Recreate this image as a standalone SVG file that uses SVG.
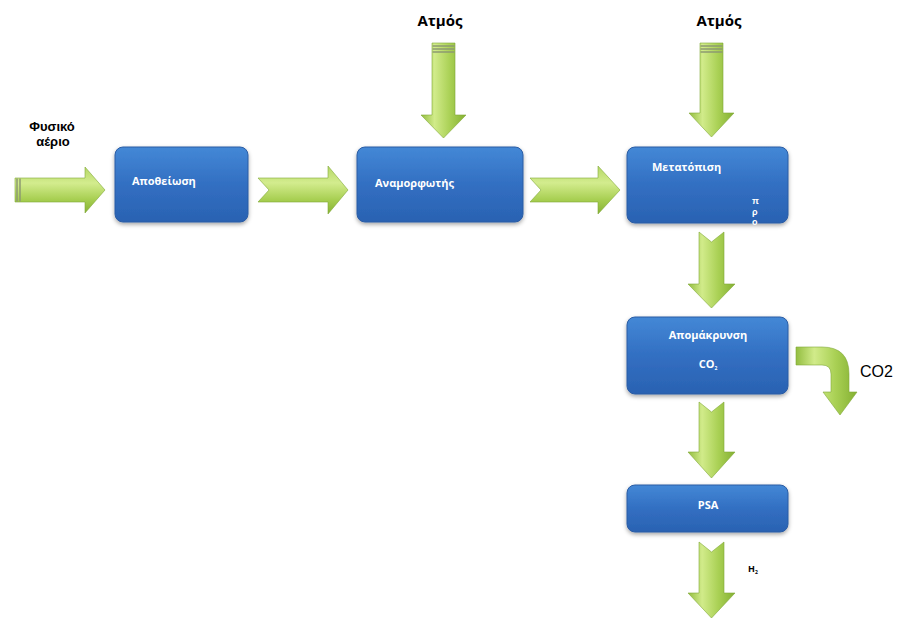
<svg xmlns="http://www.w3.org/2000/svg" width="897" height="619" viewBox="0 0 897 619">
  <defs>
    <!-- blue process box fill -->
    <linearGradient id="boxFill" x1="0" y1="0" x2="0" y2="1">
      <stop offset="0" stop-color="#4488d6"/>
      <stop offset="0.5" stop-color="#326fc2"/>
      <stop offset="1" stop-color="#2a62b2"/>
    </linearGradient>
    <!-- green arrow fills: across the shaft -->
    <linearGradient id="arrowH" x1="0" y1="0" x2="0" y2="1">
      <stop offset="0" stop-color="#b5d865"/>
      <stop offset="0.35" stop-color="#d3ec8e"/>
      <stop offset="0.7" stop-color="#a8cf52"/>
      <stop offset="1" stop-color="#86b234"/>
    </linearGradient>
    <linearGradient id="arrowV" x1="0" y1="0" x2="1" y2="0">
      <stop offset="0" stop-color="#93bd40"/>
      <stop offset="0.3" stop-color="#d1eb8a"/>
      <stop offset="0.65" stop-color="#a9d054"/>
      <stop offset="1" stop-color="#84b032"/>
    </linearGradient>
    <filter id="shadow" x="-10%" y="-10%" width="120%" height="130%">
      <feDropShadow dx="0" dy="2" stdDeviation="2" flood-color="#000" flood-opacity="0.35"/>
    </filter>
  </defs>
  <style>
    .box { fill: url(#boxFill); stroke: #2a5ca4; stroke-width: 1; filter: url(#shadow); }
    .boxText { font-family: "Open Sans", "Liberation Sans", sans-serif; font-weight: bold; font-size: 11px; fill: #ffffff; }
    .boxTextTight { font-family: "Liberation Sans", Arial, sans-serif; font-weight: bold; font-size: 9px; fill: #ffffff; }
    .ah { fill: url(#arrowH); stroke: #7fa838; stroke-width: 0.6; }
    .av { fill: url(#arrowV); stroke: #7fa838; stroke-width: 0.6; }
    .stripe { stroke: #8d9a70; stroke-width: 1.5; }
    .label { font-family: "Open Sans", "Liberation Sans", sans-serif; font-weight: bold; fill: #000; }
    .labelTight { font-family: "Liberation Sans", Arial, sans-serif; font-weight: bold; fill: #000; }
    .plain { font-family: "Liberation Sans", Arial, sans-serif; fill: #000; }
  </style>

  <rect width="897" height="619" fill="#ffffff"/>

  <!-- input labels -->
  <g id="natural-gas-label">
    <text class="labelTight" x="52" y="131" font-size="13" text-anchor="middle">Φυσικό</text>
    <text class="labelTight" x="53" y="146" font-size="13" text-anchor="middle">αέριο</text>
  </g>
  <g id="steam-label-1">
    <text class="label" x="440" y="26" font-size="15" text-anchor="middle">Ατμός</text>
  </g>
  <g id="steam-label-2">
    <text class="label" x="719" y="26" font-size="15" text-anchor="middle">Ατμός</text>
  </g>

  <!-- connectors -->
  <g id="connectors">
    <!-- natural gas feed -->
    <path class="ah" d="M15,178 L85,178 L85,167 L105,190 L85,213 L85,202 L15,202 Z"/>
    <line class="stripe" x1="17" y1="178.5" x2="17" y2="201.5"/>
    <line class="stripe" x1="20" y1="178.5" x2="20" y2="201.5"/>

    <!-- desulfurisation to reformer -->
    <path class="ah" d="M258,178 L328,178 L328,166 L348,190 L328,214 L328,202 L258,202 L269,190 Z"/>
    <!-- reformer to shift -->
    <path class="ah" d="M530,178 L598,178 L598,166 L620,190 L598,214 L598,202 L530,202 L541,190 Z"/>

    <!-- steam into reformer -->
    <path class="av" d="M432,43 L455,43 L455,115 L466,115 L443.5,138 L421,115 L432,115 Z"/>
    <line class="stripe" x1="432.5" y1="46" x2="454.5" y2="46"/>
    <line class="stripe" x1="432.5" y1="49" x2="454.5" y2="49"/>
    <line class="stripe" x1="432.5" y1="52" x2="454.5" y2="52"/>

    <!-- steam into shift -->
    <path class="av" d="M700,43 L723,43 L723,113 L734,113 L711.5,137 L689,113 L700,113 Z"/>
    <line class="stripe" x1="700.5" y1="46" x2="722.5" y2="46"/>
    <line class="stripe" x1="700.5" y1="49" x2="722.5" y2="49"/>
    <line class="stripe" x1="700.5" y1="52" x2="722.5" y2="52"/>

    <!-- shift to CO2 removal -->
    <path class="av" d="M699,232 L711.5,242 L724,232 L724,284 L735,284 L711.5,308 L688,284 L699,284 Z"/>
    <!-- CO2 removal to PSA -->
    <path class="av" d="M699,402 L711.5,412 L724,402 L724,452 L735,452 L711.5,478 L688,452 L699,452 Z"/>
    <!-- PSA product -->
    <path class="av" d="M699,542 L711.5,552 L724,542 L724,593 L735,593 L711.5,618 L688,593 L699,593 Z"/>

    <!-- CO2 off-stream bend -->
    <path class="av" d="M796,347 L822,347 Q849,347 849,374 L849,392 L857,392 L840,415 L823,392 L831,392 L831,374 Q831,365 822,365 L796,365 Z"/>
  </g>

  <!-- process blocks -->
  <g id="desulfurisation">
    <rect class="box" x="115" y="147" width="133" height="75" rx="8"/>
    <text class="boxText" x="132" y="185" font-size="12">Αποθείωση</text>
  </g>
  <g id="reformer">
    <rect class="box" x="357" y="147" width="166" height="75" rx="8"/>
    <text class="boxText" x="375" y="187" font-size="11.5">Αναμορφωτής</text>
  </g>
  <g id="shift">
    <rect class="box" x="627" y="147" width="161" height="76" rx="8"/>
    <text class="boxText" x="652" y="171">Μετατόπιση</text>
    <text class="boxTextTight" x="752" y="204">π</text>
    <text class="boxTextTight" x="752" y="214.7">ρ</text>
    <text class="boxTextTight" x="752" y="225.4">ο</text>
  </g>
  <g id="co2-removal">
    <rect class="box" x="627" y="317" width="161" height="77" rx="8"/>
    <text class="boxText" x="708" y="339" font-size="10" text-anchor="middle">Απομάκρυνση</text>
    <text class="boxText" x="708" y="368" font-size="9" text-anchor="middle">CO<tspan font-size="5" dy="2">2</tspan></text>
  </g>
  <g id="psa">
    <rect class="box" x="627" y="485" width="161" height="47" rx="8"/>
    <text class="boxText" x="708" y="509" text-anchor="middle">PSA</text>
  </g>

  <!-- output labels -->
  <g id="co2-label">
    <text class="plain" x="860" y="377" font-size="16">CO2</text>
  </g>
  <g id="h2-label">
    <text class="label" x="748" y="572" font-size="9">H<tspan font-size="5" dy="2">2</tspan></text>
  </g>
</svg>
